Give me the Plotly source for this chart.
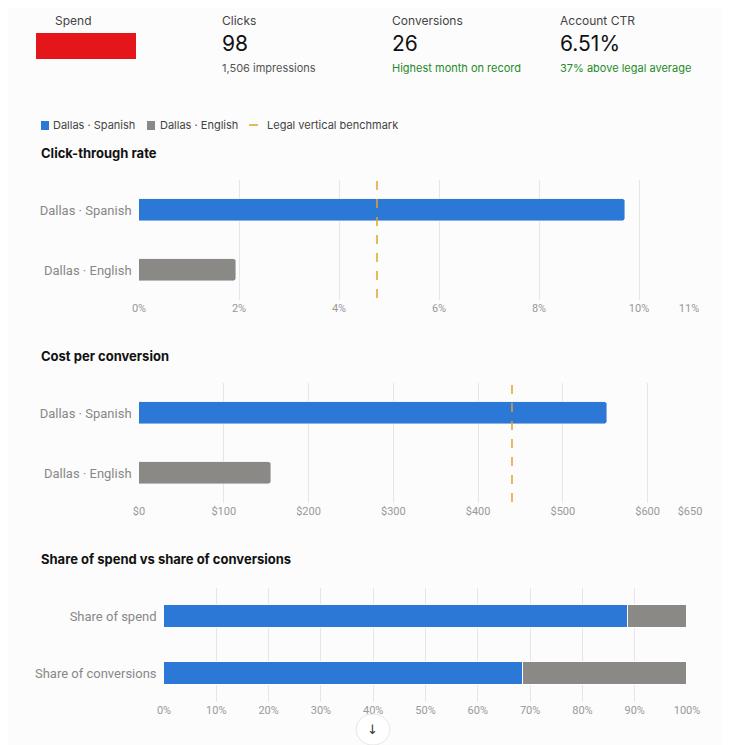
import plotly.graph_objects as go

OFF = 8
W, H = 730 - OFF, 745 - OFF
series = ["Dallas · Spanish", "Dallas · English"]
colors = ["#2b78d6", "#8a8985"]
ctr = [9.72, 1.94]
ctr_bench = 4.76
cpc = [552, 156]
cpc_bench = 440
share_cats = ["Share of spend", "Share of conversions"]
share_spanish = [88.7, 68.6]
share_english = [11.3, 31.4]

ctr_ticks = [0, 2, 4, 6, 8, 10, 11]
cpc_ticks = [0, 100, 200, 300, 400, 500, 600, 650]
share_ticks = list(range(0, 101, 10))

def px(x): return (x - OFF) / W
def py(y): return 1 - (y - OFF) / H
def xd(a, b): return [px(a), px(b)]
def yd(top, bot): return [py(bot), py(top)]

fig = go.Figure()
for i, s in enumerate(series):
    fig.add_bar(y=[s], x=[ctr[i]], orientation="h", marker_color=colors[i], width=0.37,
                xaxis="x", yaxis="y", showlegend=False, marker_cornerradius=3)
    fig.add_bar(y=[s], x=[cpc[i]], orientation="h", marker_color=colors[i], width=0.37,
                xaxis="x2", yaxis="y2", showlegend=False, marker_cornerradius=3)
fig.add_bar(y=share_cats, x=share_spanish, orientation="h", marker_color=colors[0], width=0.42,
            xaxis="x3", yaxis="y3", showlegend=False, marker_line=dict(color="white", width=1))
fig.add_bar(y=share_cats, x=share_english, orientation="h", marker_color=colors[1], width=0.42,
            xaxis="x3", yaxis="y3", showlegend=False, marker_line=dict(color="white", width=1))

tickfont = dict(family="Liberation Sans Narrow, Roboto", size=11, color="#999")
catfont = dict(family="Liberation Sans Narrow, Roboto", size=13, color="#888")
def xax(dom, rng, ticks, fmt, anchor):
    return dict(domain=dom, range=rng, tickvals=ticks, ticktext=[fmt(t) for t in ticks],
                showgrid=True, gridcolor="#e6e6e6", zeroline=False, tickfont=tickfont,
                anchor=anchor, fixedrange=True, showline=False, automargin=False)
def yax(dom, anchor):
    return dict(domain=dom, autorange="reversed", tickfont=catfont, anchor=anchor,
                showgrid=False, ticksuffix="  ", fixedrange=True, automargin=False)

fig.update_layout(
    width=W, height=H, margin=dict(l=0, r=0, t=0, b=0),
    paper_bgcolor="#fcfcfc", plot_bgcolor="#fcfcfc", barmode="stack", bargap=0,
    xaxis=xax(xd(139, 689), [0, 11], ctr_ticks, lambda t: f"{t}%", "y"),
    yaxis=yax(yd(180, 300), "x"),
    xaxis2=xax(xd(139, 690), [0, 650], cpc_ticks, lambda t: f"${t}", "y2"),
    yaxis2=yax(yd(383, 503), "x2"),
    xaxis3=xax(xd(164, 687), [0, 100], share_ticks, lambda t: f"{t}%", "y3"),
    yaxis3=yax(yd(588, 702), "x3"),
    font=dict(family="Inter", color="#222"),
)

shapes = [
    dict(type="line", xref="x", yref="paper", x0=ctr_bench, x1=ctr_bench,
         y0=py(298), y1=py(178), line=dict(color="#e0a526", width=1.5, dash="dash")),
    dict(type="line", xref="x2", yref="paper", x0=cpc_bench, x1=cpc_bench,
         y0=py(502), y1=py(381), line=dict(color="#e0a526", width=1.5, dash="dash")),
    dict(type="rect", xref="paper", yref="paper", x0=px(36), x1=px(136), y0=py(59), y1=py(33),
         fillcolor="#e4161c", line_width=0, layer="above"),
    dict(type="rect", xref="paper", yref="paper", x0=px(41), x1=px(49), y0=py(130), y1=py(121),
         fillcolor=colors[0], line_width=0),
    dict(type="rect", xref="paper", yref="paper", x0=px(147), x1=px(155), y0=py(130), y1=py(121),
         fillcolor=colors[1], line_width=0),
    dict(type="line", xref="paper", yref="paper", x0=px(249), x1=px(262), y0=py(125), y1=py(125),
         line=dict(color="#e0a526", width=1.5, dash="dash")),
    dict(type="circle", xref="paper", yref="paper", x0=px(356), x1=px(390), y0=py(745), y1=py(714),
         fillcolor="white", line=dict(color="#e6e6e6", width=1), layer="above"),
]
fig.update_layout(shapes=shapes)

def ann(x, y, text, size=12, color="#222", anchor="left", family="Inter"):
    fig.add_annotation(xref="paper", yref="paper", x=px(x), y=py(y), text=text, showarrow=False,
                       xanchor=anchor, yanchor="middle", font=dict(size=size, color=color, family=family))

green = "#1f8a2a"
ann(53, 20, "Spend", 12, "#444")
ann(220, 20, "Clicks", 12, "#444")
ann(220, 43, "98", 21, "#111")
ann(220, 68, "1,506 impressions", 11, "#555")
ann(390, 20, "Conversions", 12, "#444")
ann(390, 43, "26", 21, "#111")
ann(390, 68, "Highest month on record", 11, green)
ann(558, 20, "Account CTR", 12, "#444")
ann(558, 43, "6.51%", 21, "#111")
ann(558, 68, "37% above legal average", 11, green)
ann(51, 125, "Dallas · Spanish", 11, "#444")
ann(158, 125, "Dallas · English", 11, "#444")
ann(265, 125, "Legal vertical benchmark", 11, "#444")
ann(39, 153, "<b>Click-through rate</b>", 13, "#111")
ann(39, 356, "<b>Cost per conversion</b>", 13, "#111")
ann(39, 559, "<b>Share of spend vs share of conversions</b>", 13, "#111")
ann(373, 729, "↓", 13, "#333", anchor="center", family="DejaVu Sans")

fig.write_html("out.html")
